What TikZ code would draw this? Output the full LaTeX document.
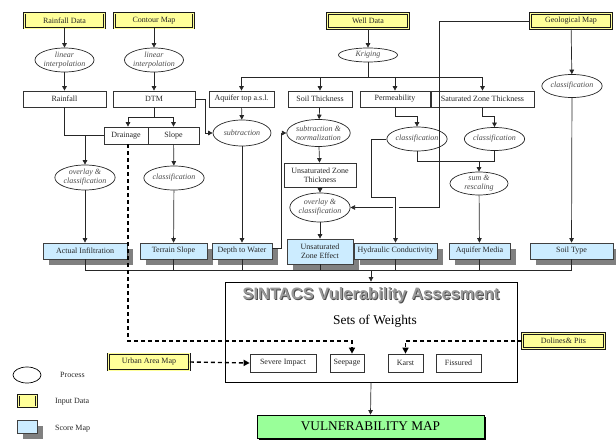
\documentclass[tikz,border=0pt]{standalone}
\usepackage{fontspec}
\setmainfont{Liberation Serif}
\newfontfamily\titlefont{Liberation Sans}
\usetikzlibrary{arrows.meta,shadows,shapes.geometric}
\definecolor{inyellow}{HTML}{FFFF99}
\definecolor{scoreblue}{HTML}{CCECFF}
\definecolor{vulngreen}{HTML}{99FF99}
\tikzset{
  every node/.style={font=\fontsize{8}{9}\selectfont, inner sep=0pt, text=black!85},
  inbox/.style={draw=black!90, line width=0.7pt, double=inyellow, double distance=0.9pt, fill=inyellow, minimum height=15pt},
  wbox/.style={draw=black!80, line width=0.7pt, fill=white, minimum height=16pt, align=center},
  proc/.style={ellipse, draw=black!85, line width=0.7pt, fill=white, align=center, font=\fontsize{8}{9}\selectfont\itshape, text=black!70},
  score/.style={draw=black!75, line width=0.7pt, fill=scoreblue, minimum height=16pt, align=center,
     drop shadow={shadow xshift=5.5pt, shadow yshift=-5.5pt, fill=black!50, opacity=1}},
  arr/.style={draw=black!85, line width=0.7pt, -{Triangle[length=4.5pt,width=4.5pt]}},
  conn/.style={draw=black!85, line width=0.7pt},
  dsh/.style={draw=black, line width=1.4pt, dash pattern=on 4pt off 3pt, -{Triangle[length=6pt,width=6pt]}},
}
\begin{document}
\begin{tikzpicture}[x=1pt,y=-1pt]
\useasboundingbox (0,0) rectangle (616,441);
% input data
\node[inbox, minimum width=80pt] (rd) at (64.5,20.5) {Rainfall Data};
\node[inbox, minimum width=79pt] (cm) at (154,20.5) {Contour Map};
\node[inbox, minimum width=81pt] (wd) at (368,21) {Well Data};
\node[inbox, minimum width=81pt] (gm) at (571,21) {Geological Map};
\node[inbox, minimum width=81pt, minimum height=16.5pt] (ua) at (149,362) {Urban Area Map};
\node[inbox, minimum width=82pt] (dp) at (563.5,341) {Dolines\& Pits};
% processes
\node[proc, minimum width=57pt, minimum height=24pt] (li1) at (64.5,60) {linear\\interpolation};
\node[proc, minimum width=56pt, minimum height=24pt] (li2) at (154,60) {linear\\interpolation};
\node[proc, minimum width=59pt, minimum height=14pt] (kr) at (368,55) {Kriging};
\node[proc, minimum width=58pt, minimum height=23pt] (clg) at (572,86) {classification};
\node[proc, minimum width=58pt, minimum height=26pt] (sub) at (242,133) {subtraction};
\node[proc, minimum width=56pt, minimum height=27pt] (subn) at (318.5,133) {subtraction \&\\normalization};
\node[proc, minimum width=58pt, minimum height=24pt] (clp) at (417,139) {classification};
\node[proc, minimum width=57pt, minimum height=23pt] (cls) at (494.5,139) {classification};
\node[proc, minimum width=58pt, minimum height=25pt] (ov1) at (85,177.5) {overlay \&\\classification};
\node[proc, minimum width=58pt, minimum height=24pt] (cl2) at (174,178) {classification};
\node[proc, minimum width=58pt, minimum height=29pt] (ov2) at (320,207.5) {overlay \&\\classification};
\node[proc, minimum width=58pt, minimum height=23pt] (sr) at (479,183.5) {sum \&\\rescaling};
% intermediate
\node[wbox, minimum width=83pt] (rf) at (64.5,99) {Rainfall};
\node[wbox, minimum width=82pt] (dtm) at (154,99) {DTM};
\node[wbox, minimum width=65pt] (aq) at (241.5,99) {Aquifer top a.s.l.};
\node[wbox, minimum width=64pt] (st) at (320,99) {Soil Thickness};
\node[wbox, minimum width=70pt] (pm) at (395,99) {Permeability};
\node[wbox, minimum width=103pt] (szt) at (482.5,99) {Saturated Zone Thickness};
\node[wbox, minimum width=44pt, minimum height=17pt] (dr) at (126,135.5) {Drainage};
\node[wbox, minimum width=51pt, minimum height=17pt] (sl) at (173.5,135.5) {Slope};
\node[wbox, minimum width=72pt, minimum height=24pt] (uzt) at (320,175) {Unsaturated Zone\\Thickness};
% score maps
\node[score, minimum width=84pt] (ai) at (85,251) {Actual Infiltration};
\node[score, minimum width=67pt] (ts) at (173.5,251) {Terrain Slope};
\node[score, minimum width=60pt] (dw) at (242,251) {Depth to Water};
\node[score, minimum width=66pt, minimum height=25pt] (uze) at (320,251.5) {Unsaturated\\Zone Effect};
\node[score, minimum width=83pt] (hc) at (395.5,251) {Hydraulic Conductivity};
\node[score, minimum width=61pt] (am) at (479.5,251) {Aquifer Media};
\node[score, minimum width=83pt] (sty) at (571.5,251) {Soil Type};
% SINTACS
\node[draw=black, line width=0.8pt, minimum width=292pt, minimum height=100pt] (sin) at (371,332) {};
\node[font=\titlefont\bfseries\fontsize{16.5}{18}\selectfont, text=black!70] (tsh) at (372,296) {SINTACS Vulerability Assesment};
\node[font=\titlefont\bfseries\fontsize{16.5}{18}\selectfont, text=black!40] (tt) at (371,295) {SINTACS Vulerability Assesment};
\node[font=\fontsize{13.4}{15}\selectfont, text=black] (sw) at (375,321) {Sets of Weights};
\node[wbox, minimum width=66pt, minimum height=18pt] (si) at (283,363) {Severe Impact};
\node[wbox, minimum width=34pt, minimum height=18pt] (sp) at (347,363) {Seepage};
\node[wbox, minimum width=35pt, minimum height=18pt] (ka) at (405.5,363) {Karst};
\node[wbox, minimum width=45pt, minimum height=18pt] (fi) at (458.5,363) {Fissured};
\node[draw=black, line width=0.8pt, fill=vulngreen, minimum width=227pt, minimum height=23pt,
  font=\fontsize{13.3}{15}\selectfont, text=black,
  drop shadow={shadow xshift=1.5pt, shadow yshift=-1.5pt, fill=black, opacity=1}] (vm) at (370.5,426.5) {VULNERABILITY MAP};
% legend
\node[ellipse, draw=black, line width=0.7pt, minimum width=28pt, minimum height=16pt] (lp) at (27,375) {};
\node[anchor=west] (lpt) at (60,375) {Process};
\node[inbox, minimum width=18pt, minimum height=11.5pt] (li) at (27.5,401) {};
\node[anchor=west] (lit) at (55,402) {Input Data};
\node[score, minimum width=20pt, minimum height=13pt] (ls) at (27,426.5) {};
\node[anchor=west] (lst) at (55,429) {Score Map};
% connectors
\draw[arr] (rd) -- (li1);
\draw[arr] (li1) -- (rf);
\draw[arr] (cm) -- (li2);
\draw[arr] (li2) -- (dtm);
\draw[arr] (dtm.south) -- ++(0,10) -| ([xshift=2pt]dr.north);
\draw[arr] (dtm.south) -- ++(0,10) -| (sl.north);
\draw[arr] (dtm.east) -- ++(10,0) |- (sub.west);
\draw[conn] (rf.south) |- (dr.west);
\coordinate (jr) at (85,135.5);
\draw[arr] (jr) -- (ov1.north);
\draw[arr] (ov1) -- (ai);
\draw[arr] (sl) -- (cl2);
\draw[arr] (cl2) -- (ts);
\draw[arr] (wd) -- (kr);
\coordinate (kb) at (368,77);
\draw[conn] (kr.south) -- (kb);
\draw[arr] (kb) -| (aq.north);
\draw[arr] (kb) -| (szt.north);
\draw[arr] (st.north |- kb) -- (st.north);
\draw[arr] (pm.north |- kb) -- (pm.north);
\draw[arr] (aq) -- (sub);
\draw[arr] (sub) -- (dw);
\draw[arr] (st) -- (subn);
\draw[arr] (subn) -- (uzt);
\draw[arr] (uzt) -- (ov2);
\draw[arr] (ov2) -- (uze);
\draw[arr] ([yshift=3pt]dw.east) -- ++(9,0) |- (subn.west);
\draw[arr] (pm.south) -- ++(0,9) -| (clp.north);
\draw[arr] (szt.south) -- ++(0,9) -| (cls.north);
\draw[conn] (clp.south) -- ++(0,10) -| (cls.south);
\coordinate (js) at (479,161);
\draw[arr] (js) -- (sr.north);
\draw[arr] (sr) -- (am);
\coordinate (gk) at (439,207.5);
\draw[arr] (gm.west) -| (gk) -- (ov2.east);
\draw[white, line width=1.6pt] ([xshift=-3pt]hc.north |- gk) -- ([xshift=3pt]hc.north |- gk);
\draw[arr] (clp.west) -- ++(-15,0) -- ++(0,58) -| (hc.north);
\draw[arr] (gm) -- (clg);
\draw[arr] (clg) -- (sty);
% bus
\coordinate (bL) at (85,270);
\coordinate (bR) at (571.5,270);
\draw[conn] (ai.south) -- (bL) -- (bR) -- (sty.south);
\draw[conn] (ts.south) -- (ts.south |- bL);
\draw[conn] (dw.south) -- (dw.south |- bL);
\draw[conn] (uze.south) -- (uze.south |- bL);
\draw[conn] (hc.south) -- (hc.south |- bL);
\draw[conn] (am.south) -- (am.south |- bL);
\draw[arr] (sin.north |- bL) -- (sin.north);
\draw[arr] (sin.south) -- (vm.north);
% dashed
\draw[dsh] ([xshift=2pt]dr.south) -- (128,341) -| ([xshift=5pt]sp.north);
\draw[dsh] (dp.west) -| (ka.north);
\draw[dsh] (ua.east) -- (si.west);
\end{tikzpicture}
\end{document}
